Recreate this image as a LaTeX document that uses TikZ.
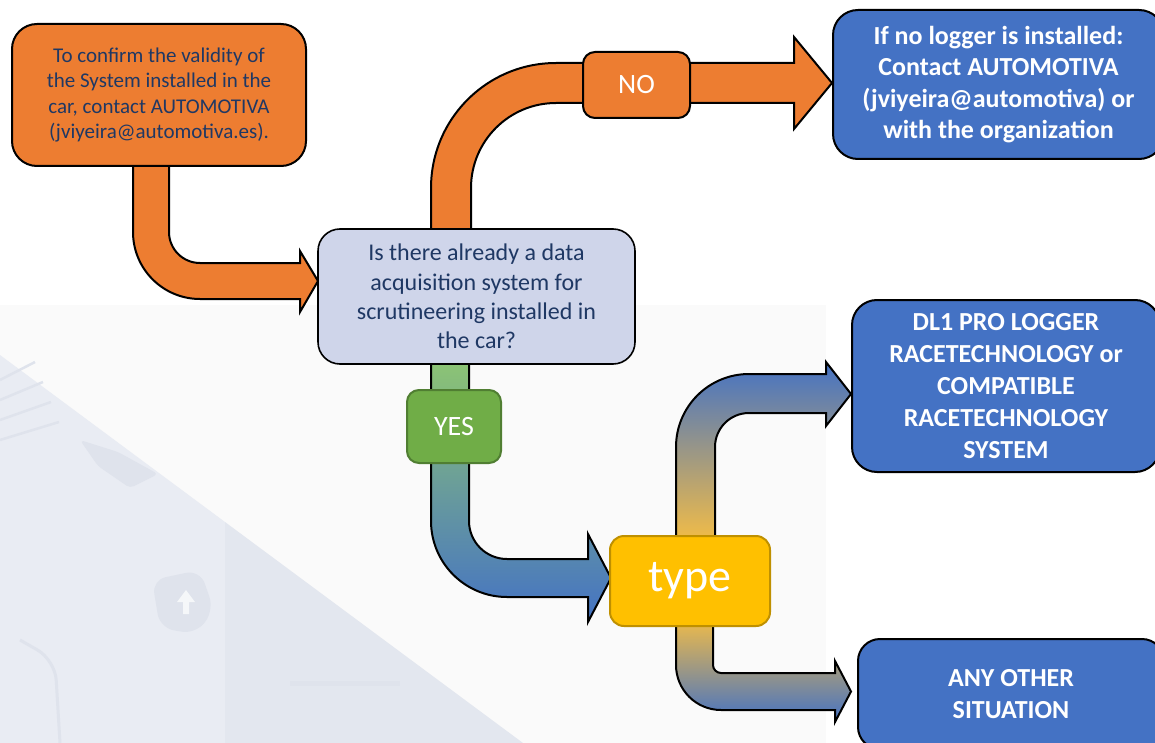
\documentclass[tikz,border=0pt]{standalone}
\usepackage{fontspec}
\setmainfont{Carlito}
\definecolor{org}{HTML}{ED7D31}
\definecolor{qfill}{HTML}{CFD5EA}
\definecolor{navy}{HTML}{1F3864}
\definecolor{bluebox}{HTML}{4472C4}
\definecolor{grn}{HTML}{70AD47}
\definecolor{grnb}{HTML}{507E32}
\definecolor{grnl}{HTML}{8EC672}
\definecolor{teal}{HTML}{5E90B4}
\definecolor{gold}{HTML}{FFC000}
\definecolor{goldb}{HTML}{BF9000}
\definecolor{goldl}{HTML}{F6BE44}
\definecolor{mauve}{HTML}{B098A4}
\definecolor{bgl}{HTML}{FAFAFA}
\definecolor{carA}{HTML}{E9ECF3}
\definecolor{carB}{HTML}{E3E7EF}
\definecolor{carC}{HTML}{DFE3EC}
\newcommand\myfs[2]{\fontsize{#1}{#2}\selectfont}
\tikzset{
  box/.style={rectangle, draw=black, line width=2pt, inner sep=0pt, outer sep=0pt, align=center},
  blk/.style={draw=black, line width=2pt, line join=miter},
}
\begin{document}
\begin{tikzpicture}[x=1pt,y=1pt]
\useasboundingbox (0,0) rectangle (1155,-743);
\clip (0,0) rectangle (1155,-743);
% background
\fill[white] (0,0) rectangle (1155,-743);
\fill[bgl] (0,-305) rectangle (826,-743);
\fill[carA] (0,-355) -- (225,-522) -- (225,-743) -- (0,-743) -- cycle;
\fill[carB] (225,-522) -- (523,-743) -- (225,-743) -- cycle;
\foreach \i in {0,1,2,3} {
  \draw[carC, line width=2.5pt] (0,-380-\i*20) -- (35+\i*8,-362-\i*20);
}
\fill[carC, rounded corners=4pt] (80,-440) -- (118,-452) -- (158,-474) -- (130,-488) -- (98,-466) -- cycle;
\fill[carC, rounded corners=14pt] (152,-580) -- (200,-570) -- (214,-610) -- (196,-634) -- (160,-628) -- cycle;
\fill[white!70!carC] (186,-590) -- (177,-602) -- (183,-602) -- (183,-614) -- (189,-614) -- (189,-602) -- (195,-602) -- cycle;
\draw[carC, line width=5pt] (290,-683) -- (400,-683);
\draw[carC, line width=3pt, rounded corners=20pt] (20,-640) -- (55,-660) -- (60,-743);

% block arrows
\draw[blk, fill=org] (133,-160) -- (133,-232) arc[start angle=180,end angle=270,radius=67pt]
  -- (300,-299) -- (300,-312) -- (318,-281) -- (300,-251) -- (300,-263) -- (200,-263)
  arc[start angle=270,end angle=180,radius=31pt] -- (169,-160) -- cycle;
\draw[blk, fill=org] (431,-240) -- (431,-188) arc[start angle=180,end angle=90,radius=125pt]
  -- (794,-63) -- (794,-37) -- (832,-83) -- (794,-129) -- (794,-103) -- (556,-103)
  arc[start angle=90,end angle=180,radius=85pt] -- (471,-240) -- cycle;
\shade[blk, top color=grnl, middle color=teal, bottom color=bluebox]
  (431,-355) -- (431,-521) arc[start angle=180,end angle=270,radius=76pt]
  -- (588,-597) -- (588,-622) -- (611,-578) -- (588,-534) -- (588,-559) -- (507,-559)
  arc[start angle=270,end angle=180,radius=38pt] -- (469,-355) -- cycle;
\shade[blk, top color=bluebox, middle color=mauve, bottom color=goldl]
  (676,-545) -- (676,-447) arc[start angle=180,end angle=90,radius=73pt]
  -- (826,-374) -- (826,-362) -- (851,-394) -- (826,-426) -- (826,-413) -- (749,-413)
  arc[start angle=90,end angle=180,radius=34pt] -- (715,-545) -- cycle;
\shade[blk, top color=goldl, middle color=mauve, bottom color=bluebox]
  (676,-615) -- (676,-665) arc[start angle=180,end angle=270,radius=45pt]
  -- (835,-710) -- (835,-722) -- (851,-691.5) -- (835,-661) -- (835,-673) -- (721,-673)
  arc[start angle=270,end angle=180,radius=8pt] -- (713,-615) -- cycle;

% nodes
\node[box, fill=org, rounded corners=25pt, minimum width=294pt, minimum height=142pt,
  text=navy, font=\myfs{21}{25.5}] (A) at (159,-95)
  {To confirm the validity of\\the System installed in the\\car, contact AUTOMOTIVA\\(jviyeira@automotiva.es).};
\node[box, fill=qfill, line width=1.6pt, rounded corners=22pt, minimum width=317pt, minimum height=135pt,
  text=navy, font=\myfs{24}{29.3}] (Q) at (476.5,-296.5)
  {Is there already a data\\acquisition system for\\scrutineering installed in\\the car?};
\node[box, fill=org, rounded corners=12pt, minimum width=107pt, minimum height=66pt,
  text=white, font=\myfs{28}{30}] (no) at (636.5,-85) {NO};
\node[box, fill=bluebox, rounded corners=25pt, minimum width=331pt, minimum height=149pt,
  text=white, font=\myfs{26}{31.5}\bfseries] (N) at (998.5,-84.5)
  {If no logger is installed:\\Contact AUTOMOTIVA\\(jviyeira@automotiva) or\\with the organization};
\node[box, fill=grn, draw=grnb, rounded corners=12pt, minimum width=94pt, minimum height=73pt,
  text=white, font=\myfs{28}{30}] (yes) at (454,-426.5) {YES};
\node[box, fill=gold, draw=goldb, rounded corners=14pt, minimum width=160pt, minimum height=90pt,
  text=white, font=\myfs{46}{50}] (type) at (690,-581) {type};
\node[box, fill=bluebox, rounded corners=25pt, minimum width=308pt, minimum height=172pt,
  text=white, font=\myfs{26}{31.8}\bfseries] (DL) at (1006,-386)
  {DL1 PRO LOGGER\\RACETECHNOLOGY or\\COMPATIBLE\\RACETECHNOLOGY\\SYSTEM};
\node[box, fill=bluebox, rounded corners=22pt, minimum width=306pt, minimum height=110pt,
  text=white, font=\myfs{26}{32}\bfseries] (any) at (1011,-694)
  {ANY OTHER\\SITUATION};
\end{tikzpicture}
\end{document}
